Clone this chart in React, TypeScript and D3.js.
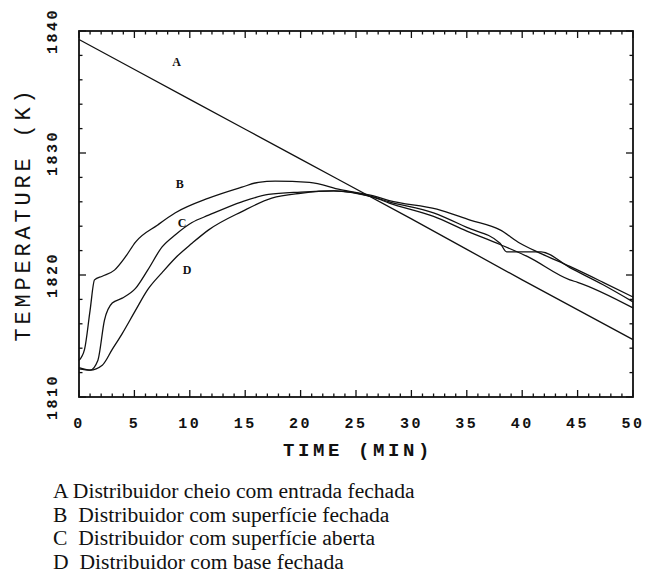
import React from "react";
import * as d3 from "d3";

const xTicks = [0, 5, 10, 15, 20, 25, 30, 35, 40, 45, 50];
const yTicks = [1810, 1820, 1830, 1840];

const curveA: [number, number][] = [
  [0, 1839.3], [10, 1834.4], [20, 1829.5], [30, 1824.6], [40, 1819.6], [50, 1814.7],
];
const curveB: [number, number][] = [
  [0, 1813.0], [0.5, 1813.9], [1.0, 1817.1], [1.4, 1819.6], [2.1, 1819.9], [3.2, 1820.4],
  [4.2, 1821.5], [5.1, 1822.7], [7.1, 1824.1], [8.7, 1825.1], [11.7, 1826.3], [14.7, 1827.2],
  [16.2, 1827.6], [17.7, 1827.7], [20.8, 1827.6], [23.6, 1827.0], [26.5, 1826.5], [28.0, 1826.1],
  [32.3, 1825.4], [35.3, 1824.5], [38.0, 1823.7], [39.8, 1822.6], [41.6, 1821.8], [44.3, 1820.7],
  [47.3, 1819.4], [50, 1818.2],
];
const curveC: [number, number][] = [
  [0, 1812.3], [1.0, 1812.2], [1.7, 1813.0], [2.3, 1816.3], [3.0, 1817.7], [3.9, 1818.1],
  [5.1, 1818.9], [6.2, 1820.4], [7.5, 1822.3], [8.7, 1823.3], [10.2, 1824.3], [11.7, 1824.9],
  [14.7, 1826.0], [17.1, 1826.6], [20, 1826.8], [23, 1826.9], [26.5, 1826.4], [28.0, 1826.0],
  [32, 1825.1], [35, 1823.9], [38.0, 1822.6], [38.6, 1821.9], [41.7, 1821.9], [44.3, 1820.6],
  [47.3, 1819.2], [50, 1817.8],
];
const curveD: [number, number][] = [
  [0, 1812.4], [1.0, 1812.2], [2.1, 1812.6], [3.0, 1813.9], [3.9, 1815.2], [5.1, 1817.1],
  [6.2, 1818.8], [7.5, 1820.2], [8.7, 1821.4], [10.2, 1822.6], [11.7, 1823.7], [14.7, 1825.2],
  [17.4, 1826.3], [20, 1826.7], [23, 1826.9], [26.5, 1826.4], [28.0, 1825.9], [32, 1824.8],
  [35, 1823.6], [38, 1822.5], [40.5, 1821.5], [44.3, 1819.6], [45, 1819.4], [50, 1817.3],
];
const curves = [curveA, curveB, curveC, curveD];

const curveLabels = ["A", "B", "C", "D"];
const labelPos: [number, number][] = [[8.8, 1837.5], [9.1, 1827.5], [9.3, 1824.3], [9.75, 1820.4]];

const legendLines = [
  "A Distribuidor cheio com entrada fechada",
  "B  Distribuidor com superfície fechada",
  "C  Distribuidor com superfície aberta",
  "D  Distribuidor com base fechada",
];

const xTitle = "TIME (MIN)";
const yTitle = "TEMPERATURE (K)";

export default function App() {
  const W = 645, H = 575;
  const x = d3.scaleLinear().domain([0, 50]).range([79, 633]);
  const y = d3.scaleLinear().domain([1810, 1840]).range([397, 31]);
  const line = d3
    .line<[number, number]>()
    .x((d) => x(d[0]))
    .y((d) => y(d[1]))
    .curve(d3.curveMonotoneX);

  const xMinor = d3.range(0, 51, 1);
  const yMinor = d3.range(1810, 1841, 2);
  const [x0, x1] = x.range();
  const [y0, y1] = y.range();
  const tickFont = "'Liberation Mono', 'DejaVu Sans Mono', monospace";

  return (
    <svg width={W} height={H} style={{ position: "absolute", left: 0, top: 0, background: "#fff" }}>
      <rect x={0} y={0} width={W} height={H} fill="#fff" />
      {/* frame */}
      <rect x={x0} y={y1} width={x1 - x0} height={y0 - y1} fill="none" stroke="#111" strokeWidth={1.8} />
      {/* x ticks */}
      {xMinor.map((t) => {
        const len = t % 5 === 0 ? 7 : 3.5;
        return (
          <g key={"xt" + t}>
            <line x1={x(t)} x2={x(t)} y1={y0} y2={y0 - len} stroke="#111" strokeWidth={1.3} />
            <line x1={x(t)} x2={x(t)} y1={y1} y2={y1 + len} stroke="#111" strokeWidth={1.3} />
          </g>
        );
      })}
      {yMinor.map((v) => {
        const len = v % 10 === 0 ? 7 : 3.5;
        return (
          <g key={"yt" + v}>
            <line x1={x0} x2={x0 + len} y1={y(v)} y2={y(v)} stroke="#111" strokeWidth={1.3} />
            <line x1={x1} x2={x1 - len} y1={y(v)} y2={y(v)} stroke="#111" strokeWidth={1.3} />
          </g>
        );
      })}
      {/* x tick labels */}
      {xTicks.map((t) => (
        <text key={"xl" + t} x={x(t)} y={428} textAnchor="middle" fontFamily={tickFont}
          fontWeight="bold" fontSize={15} letterSpacing={2.5} fill="#111">
          {t}
        </text>
      ))}
      {/* y tick labels */}
      {yTicks.map((v) => (
        <text key={"yl" + v} transform={`translate(57,${y(v)}) rotate(-90)`} textAnchor="middle"
          fontFamily={tickFont} fontWeight="bold" fontSize={15} letterSpacing={2.5} fill="#111">
          {v}
        </text>
      ))}
      {/* axis titles */}
      <text x={358} y={456} textAnchor="middle" fontFamily={tickFont} fontWeight="bold"
        fontSize={19} letterSpacing={3.6} fill="#111" style={{ whiteSpace: "pre" }}>
        {xTitle}
      </text>
      <text transform={`translate(30,${(y0 + y1) / 2}) rotate(-90)`} textAnchor="middle"
        fontFamily={tickFont} fontSize={22} letterSpacing={3.8} fill="#111">
        {yTitle}
      </text>
      {/* curves */}
      {curves.map((c, i) => (
        <path key={"c" + i} d={line(c) || ""} fill="none" stroke="#111" strokeWidth={1.3} />
      ))}
      {/* curve labels */}
      {curveLabels.map((l, i) => (
        <text key={"cl" + l} x={x(labelPos[i][0])} y={y(labelPos[i][1])} textAnchor="middle"
          dominantBaseline="central" fontFamily="'Liberation Serif', serif" fontWeight="bold"
          fontSize={12} fill="#111">
          {l}
        </text>
      ))}
      {/* legend */}
      {legendLines.map((s, i) => (
        <text key={"lg" + i} x={53} y={498 + i * 23.5} fontFamily="'Liberation Serif', 'Times New Roman', serif"
          fontSize={21.6} fill="#111" style={{ whiteSpace: "pre" }}>
          {s}
        </text>
      ))}
    </svg>
  );
}
